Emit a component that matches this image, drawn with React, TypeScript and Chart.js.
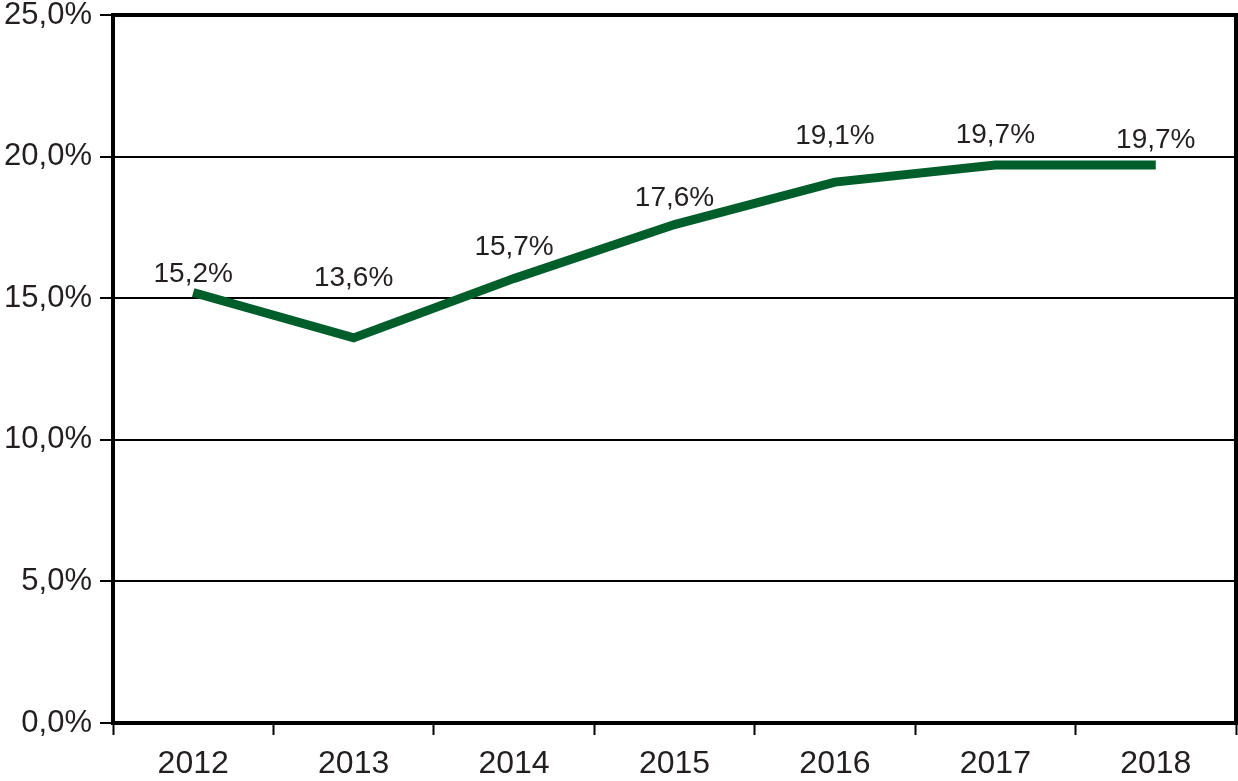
import React, { useEffect, useRef } from "react";
import { Chart, registerables } from "chart.js";

Chart.register(...registerables);

const years = ["2012", "2013", "2014", "2015", "2016", "2017", "2018"];
const shares = [15.2, 13.6, 15.7, 17.6, 19.1, 19.7, 19.7];
const yTicks = [0, 5, 10, 15, 20, 25];

const fmt = (v: number) => v.toFixed(1).replace(".", ",") + "%";

const TEXT = "#231f20";
const FONT = "'Liberation Sans', Arial, sans-serif";

const framePlugin = {
  id: "frame",
  afterDraw(chart: any) {
    const { ctx, chartArea } = chart;
    ctx.save();
    ctx.strokeStyle = "#000";
    ctx.lineWidth = 4;
    ctx.beginPath();
    ctx.moveTo(chartArea.left - 2, chartArea.top);
    ctx.lineTo(chartArea.right, chartArea.top);
    ctx.lineTo(chartArea.right, chartArea.bottom + 2);
    ctx.stroke();
    ctx.restore();
  },
};

const labelPlugin = {
  id: "valueLabels",
  afterDatasetsDraw(chart: any, _args: any, opts: any) {
    const { ctx } = chart;
    const meta = chart.getDatasetMeta(0);
    const offsets: number[] = opts.offsets || [];
    ctx.save();
    ctx.fillStyle = TEXT;
    ctx.font = `28px ${FONT}`;
    ctx.textAlign = "center";
    ctx.textBaseline = "middle";
    meta.data.forEach((pt: any, i: number) => {
      const v = chart.data.datasets[0].data[i] as number;
      ctx.fillText(fmt(v), pt.x, pt.y - (offsets[i] ?? 25));
    });
    ctx.restore();
  },
};

export default function App() {
  const ref = useRef<HTMLCanvasElement | null>(null);

  useEffect(() => {
    if (!ref.current) return;
    const chart = new Chart(ref.current, {
      type: "line",
      data: {
        labels: years,
        datasets: [
          {
            data: shares,
            borderColor: "#005e2b",
            borderWidth: 9,
            borderCapStyle: "butt",
            borderJoinStyle: "miter",
            pointRadius: 0,
            tension: 0,
            fill: false,
          },
        ],
      },
      options: {
        animation: false,
        responsive: false,
        devicePixelRatio: 1,
        layout: { padding: { top: 15, right: 2, left: 0, bottom: 0 } },
        plugins: {
          legend: { display: false },
          tooltip: { enabled: false },
          valueLabels: { offsets: [18, 60, 31, 26, 46, 30, 25] },
        } as any,
        scales: {
          x: {
            type: "category",
            offset: true,
            grid: {
              offset: true,
              drawOnChartArea: false,
              drawTicks: true,
              tickLength: 12,
              tickWidth: 2,
              tickColor: "#000",
            },
            border: { display: true, width: 4, color: "#000" },
            ticks: {
              color: TEXT,
              font: { family: FONT, size: 32 },
              padding: 10,
              maxRotation: 0,
            },
            afterFit(scale: any) {
              scale.height = 58;
              scale.paddingLeft = 0;
              scale.paddingRight = 0;
            },
          },
          y: {
            min: 0,
            max: 25,
            afterBuildTicks(scale: any) {
              scale.ticks = yTicks.map((v) => ({ value: v }));
            },
            grid: {
              color: "#000",
              lineWidth: 2,
              tickLength: 13,
              tickWidth: 2,
              tickColor: "#000",
            },
            border: { display: true, width: 4, color: "#000" },
            ticks: {
              color: TEXT,
              font: { family: FONT, size: 31 },
              padding: 8,
              callback: (v: any) => fmt(Number(v)),
            },
            afterFit(scale: any) {
              scale.width = 113;
              scale.paddingTop = 0;
              scale.paddingBottom = 0;
            },
          },
        },
      },
      plugins: [framePlugin, labelPlugin],
    });
    return () => chart.destroy();
  }, []);

  return (
    <div style={{ position: "fixed", left: 0, top: 0, width: 1238, height: 781, background: "#fff" }}>
      <canvas ref={ref} width={1238} height={781} style={{ width: 1238, height: 781, display: "block" }} />
    </div>
  );
}
